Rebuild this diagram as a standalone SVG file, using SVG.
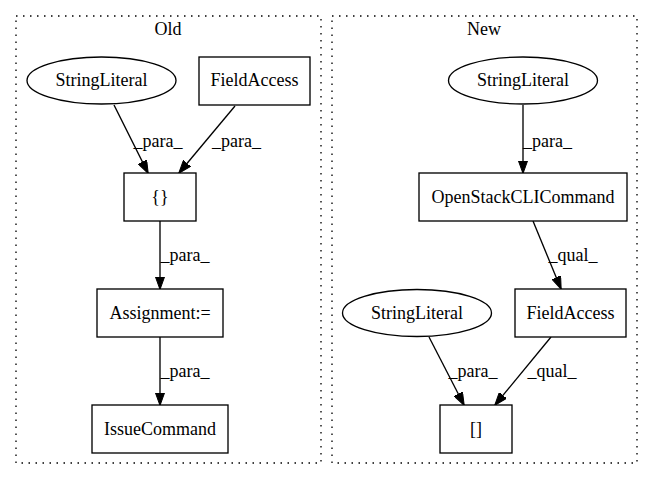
<svg xmlns="http://www.w3.org/2000/svg" width="653" height="480" viewBox="0 0 653 480">
<style>
text{font-family:"Liberation Serif","Times New Roman",serif;font-size:18px;fill:#000;text-anchor:middle}
.n{fill:#fff;stroke:#000;stroke-width:1.33}
.c{fill:none;stroke:#000;stroke-width:1.33;stroke-dasharray:1.5 5.5}
.e{fill:none;stroke:#000;stroke-width:1.33;marker-end:url(#a)}
</style>
<defs>
<marker id="a" viewBox="0 0 13 9.4" refX="12.5" refY="4.7" markerWidth="13" markerHeight="9.4" orient="auto" markerUnits="userSpaceOnUse">
<path d="M0,0 L13,4.7 L0,9.4 z" fill="#000" stroke="#000" stroke-width="1"/>
</marker>
</defs>
<rect width="653" height="480" fill="#fff"/>
<g id="cluster_old">
<rect class="c" x="16" y="16" width="305" height="447"/>
<text x="168" y="35">Old</text>
</g>
<g id="cluster_new">
<rect class="c" x="332" y="16" width="305" height="447"/>
<text x="484" y="35">New</text>
</g>
<g id="edges">
<line class="e" x1="114" y1="105" x2="148" y2="173"/>
<text x="158" y="147">_para_</text>
<line class="e" x1="235" y1="106" x2="179" y2="173"/>
<text x="236.5" y="147">_para_</text>
<line class="e" x1="160" y1="221" x2="160" y2="289"/>
<text x="185" y="261">_para_</text>
<line class="e" x1="160" y1="337" x2="160" y2="405"/>
<text x="185" y="377">_para_</text>
<line class="e" x1="523" y1="105" x2="523" y2="173"/>
<text x="547.5" y="147">_para_</text>
<line class="e" x1="533" y1="221" x2="561" y2="289"/>
<text x="573" y="261">_qual_</text>
<line class="e" x1="429" y1="337" x2="464" y2="405"/>
<text x="473" y="377">_para_</text>
<line class="e" x1="551" y1="337" x2="495" y2="405"/>
<text x="552" y="377">_qual_</text>
</g>
<g id="old_stringliteral">
<ellipse class="n" cx="101.5" cy="80.5" rx="74.5" ry="23.5"/>
<text x="101.5" y="86">StringLiteral</text>
</g>
<g id="old_fieldaccess">
<rect class="n" x="199" y="57" width="111" height="48"/>
<text x="254.5" y="86">FieldAccess</text>
</g>
<g id="old_braces">
<rect class="n" x="124" y="173" width="72" height="48"/>
<text x="160" y="203">{}</text>
</g>
<g id="old_assignment">
<rect class="n" x="97" y="289" width="126" height="48"/>
<text x="160" y="319">Assignment:=</text>
</g>
<g id="old_issuecommand">
<rect class="n" x="92" y="405" width="136" height="48"/>
<text x="160" y="435">IssueCommand</text>
</g>
<g id="new_stringliteral1">
<ellipse class="n" cx="523" cy="80.5" rx="74.5" ry="23.5"/>
<text x="523" y="86">StringLiteral</text>
</g>
<g id="new_openstackclicommand">
<rect class="n" x="419" y="173" width="208" height="48"/>
<text x="523" y="203">OpenStackCLICommand</text>
</g>
<g id="new_fieldaccess">
<rect class="n" x="515" y="289" width="111" height="48"/>
<text x="570.5" y="319">FieldAccess</text>
</g>
<g id="new_stringliteral2">
<ellipse class="n" cx="417" cy="313" rx="74.5" ry="23.5"/>
<text x="417" y="319">StringLiteral</text>
</g>
<g id="new_brackets">
<rect class="n" x="440" y="405" width="72" height="48"/>
<text x="476" y="435">[]</text>
</g>
</svg>
